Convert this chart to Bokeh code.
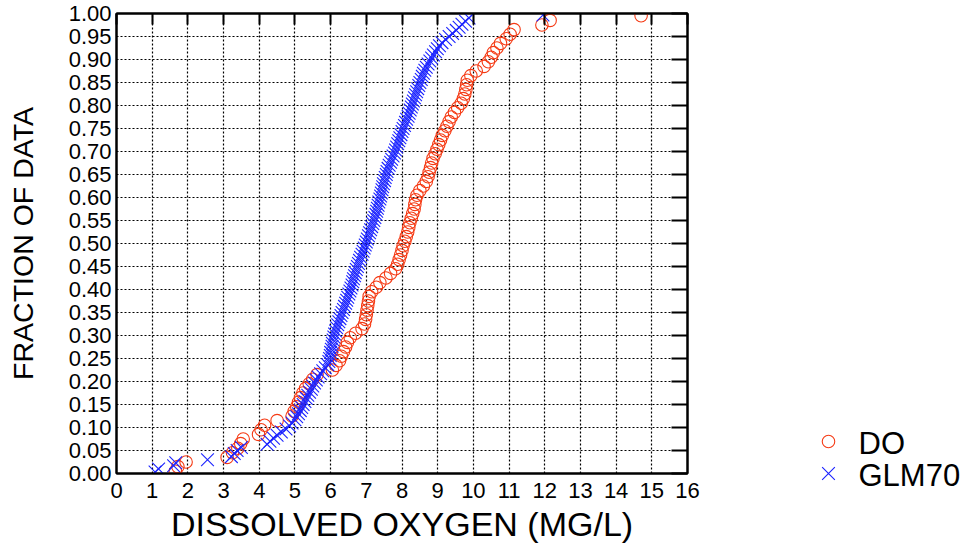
from bokeh.plotting import figure
from bokeh.layouts import row, column
from bokeh.models import (FixedTicker, LinearAxis, CustomJSTickFormatter,
                          ColumnDataSource)
from bokeh.core.properties import value
from bokeh.embed import file_html
from bokeh.resources import INLINE

do_values = [
    1.65, 1.72, 1.95, 3.10, 3.25, 3.40, 3.48, 3.55, 3.98, 4.05,
    4.15, 4.50, 4.92, 4.98, 5.05, 5.10, 5.16, 5.22, 5.30, 5.40,
    5.50, 5.62, 6.05, 6.15, 6.25, 6.30, 6.36, 6.42, 6.47, 6.55,
    6.70, 6.88, 6.95, 6.98, 7.00, 7.02, 7.04, 7.06, 7.08, 7.15,
    7.28, 7.38, 7.55, 7.68, 7.82, 7.88, 7.92, 7.96, 8.00, 8.03,
    8.08, 8.12, 8.16, 8.19, 8.22, 8.26, 8.30, 8.34, 8.36, 8.38,
    8.42, 8.50, 8.60, 8.68, 8.73, 8.76, 8.80, 8.83, 8.87, 8.93,
    8.98, 9.03, 9.08, 9.13, 9.20, 9.26, 9.32, 9.38, 9.47, 9.56,
    9.66, 9.72, 9.76, 9.79, 9.81, 9.83, 9.93, 10.08, 10.30, 10.42,
    10.50, 10.56, 10.66, 10.76, 10.92, 11.03, 11.14, 11.92, 12.15, 14.70,
]

glm70_values = [
    1.08, 1.18, 1.60, 1.66, 2.55, 3.22, 3.30, 3.38, 3.50, 4.22,
    4.30, 4.40, 4.50, 4.62, 4.75, 4.85, 4.92, 5.00, 5.05, 5.10,
    5.15, 5.19, 5.23, 5.28, 5.32, 5.36, 5.41, 5.46, 5.50, 5.55,
    5.60, 5.65, 5.72, 5.78, 5.85, 5.92, 5.95, 5.97, 5.99, 6.00,
    6.02, 6.04, 6.05, 6.07, 6.09, 6.11, 6.14, 6.17, 6.20, 6.23,
    6.26, 6.29, 6.32, 6.36, 6.39, 6.42, 6.45, 6.48, 6.51, 6.54,
    6.57, 6.60, 6.62, 6.64, 6.67, 6.69, 6.72, 6.75, 6.78, 6.81,
    6.84, 6.88, 6.91, 6.94, 6.97, 7.00, 7.03, 7.06, 7.09, 7.12,
    7.15, 7.18, 7.21, 7.24, 7.27, 7.29, 7.31, 7.33, 7.35, 7.38,
    7.40, 7.42, 7.44, 7.46, 7.48, 7.51, 7.53, 7.56, 7.58, 7.61,
    7.64, 7.68, 7.71, 7.75, 7.79, 7.82, 7.85, 7.88, 7.91, 7.94,
    7.97, 8.00, 8.03, 8.07, 8.10, 8.13, 8.17, 8.20, 8.23, 8.26,
    8.29, 8.32, 8.35, 8.38, 8.41, 8.44, 8.47, 8.50, 8.54, 8.57,
    8.60, 8.64, 8.68, 8.73, 8.78, 8.83, 8.88, 8.94, 8.99, 9.05,
    9.12, 9.22, 9.32, 9.42, 9.52, 9.60, 9.68, 9.78, 9.88, 11.95,
]

x_ticks = list(range(0, 17))
y_ticks = [round(0.05 * k, 2) for k in range(0, 21)]

series_names = ["DO", "GLM70"]
x_title = "DISSOLVED OXYGEN (MG/L)"
y_title = "FRACTION OF DATA"


def plotting_positions(vals):
    s = sorted(vals)
    n = len(s)
    return s, [(i + 0.5) / n for i in range(n)]


do_x, do_f = plotting_positions(do_values)
gl_x, gl_f = plotting_positions(glm70_values)

FONT = "Liberation Sans"
RED = "#f53a14"
BLUE = "#1a22ff"
CIRCLE_SIZE = 12.5
X_SIZE = 18

p = figure(width=700, height=546, output_backend="svg", toolbar_location=None,
           x_range=(0, 16), y_range=(0, 1.0),
           min_border_left=116, min_border_right=13,
           min_border_top=13, min_border_bottom=73)
p.background_fill_color = "white"
p.border_fill_color = "white"
p.outline_line_color = "black"
p.outline_line_width = 2

src_do = ColumnDataSource(dict(x=do_x, y=do_f))
src_gl = ColumnDataSource(dict(x=gl_x, y=gl_f))

p.scatter("x", "y", source=src_do, marker="circle", size=CIRCLE_SIZE,
          fill_color=None, line_color=RED, line_width=1.1)
p.scatter("x", "y", source=src_gl, marker="x", size=X_SIZE,
          line_color=BLUE, line_width=1.1)

fmt = CustomJSTickFormatter(code="return tick.toFixed(2);")

for ax in p.xaxis:
    ax.ticker = FixedTicker(ticks=x_ticks)
for ax in p.yaxis:
    ax.ticker = FixedTicker(ticks=y_ticks)
    ax.formatter = fmt

for ax in list(p.xaxis) + list(p.yaxis):
    ax.axis_line_width = 2
    ax.major_tick_in = 0
    ax.major_tick_out = 0
    ax.minor_tick_line_color = None
    ax.major_label_text_font = FONT
    ax.major_label_text_font_size = "22px"
    ax.major_label_text_color = "black"
    ax.axis_label_text_font = FONT
    ax.axis_label_text_font_style = "normal"
    ax.axis_label_text_color = "black"

p.xaxis.axis_label = x_title
p.xaxis.axis_label_text_font_size = "34px"
p.xaxis.major_label_standoff = 9
p.xaxis.axis_label_standoff = 4
p.yaxis.axis_label = y_title
p.yaxis.axis_label_text_font_size = "28.5px"
p.yaxis.major_label_standoff = 5
p.yaxis.axis_label_standoff = 27

top = LinearAxis(ticker=FixedTicker(ticks=x_ticks), major_label_text_color=None,
                 major_tick_in=11, major_tick_out=0, major_tick_line_width=2,
                 minor_tick_line_color=None, axis_line_width=2,
                 major_label_text_font_size="1px", major_label_standoff=0)
right = LinearAxis(ticker=FixedTicker(ticks=y_ticks), major_label_text_color=None,
                   major_tick_in=16, major_tick_out=0, major_tick_line_width=2,
                   minor_tick_line_color=None, axis_line_width=2,
                   major_label_text_font_size="1px", major_label_standoff=0)
p.add_layout(top, "above")
p.add_layout(right, "right")

for g in (p.xgrid, p.ygrid):
    g.grid_line_color = "black"
    g.grid_line_dash = "2 2"
    g.grid_line_width = 1.2
    g.grid_line_alpha = 1.0
p.xgrid.ticker = FixedTicker(ticks=x_ticks)
p.ygrid.ticker = FixedTicker(ticks=y_ticks)

# ---------------- legend panel (pixel-scaled ranges) ----------------
lg = figure(frame_width=274, frame_height=546, output_backend="svg",
            toolbar_location=None,
            x_range=(0, 274), y_range=(546, 0),
            min_border_left=0, min_border_right=0,
            min_border_top=0, min_border_bottom=0)
lg.axis.visible = False
lg.grid.visible = False
lg.outline_line_color = None
lg.background_fill_color = "white"
lg.border_fill_color = "white"

leg_src = ColumnDataSource(dict(tx=[158, 158], ty=[443, 475],
                                label=series_names))
lg.scatter(x=[128], y=[441], marker="circle", size=CIRCLE_SIZE,
           fill_color=None, line_color=RED, line_width=1.1)
lg.scatter(x=[128], y=[473], marker="x", size=X_SIZE,
           line_color=BLUE, line_width=1.1)
lg.text(x="tx", y="ty", text="label", source=leg_src,
        text_font=value(FONT), text_font_size="31px",
        text_baseline="middle", text_align="left", text_color="black")

layout = row(p, column(lg), spacing=0)
open("out.html", "w").write(file_html(layout, INLINE))
